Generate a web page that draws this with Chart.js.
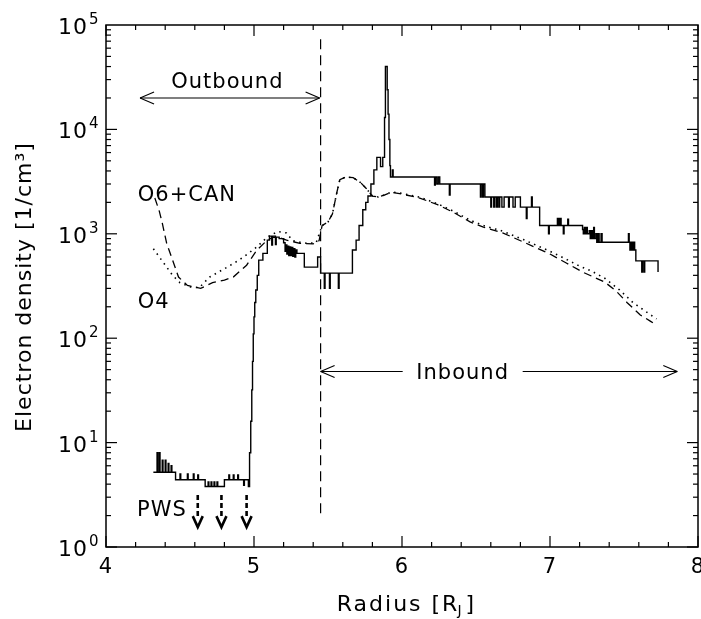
<!DOCTYPE html>
<html>
<head>
<meta charset="utf-8">
<script src="https://cdn.jsdelivr.net/npm/chart.js@4/dist/chart.umd.min.js"></script>
<style>
body { margin: 0; background: #fff; }
canvas { display: block; }
</style>
</head>
<body>
<canvas id="c" width="701" height="619"></canvas>
<script>
// measured density, step trace (value holds from r[i] to r[i+1])
var measR = [4.32, 4.345, 4.35, 4.36, 4.365, 4.38, 4.385, 4.40, 4.405, 4.42, 4.425, 4.44, 4.445,
    4.47, 4.50, 4.505, 4.55, 4.555, 4.59, 4.595, 4.62, 4.625,
    4.67, 4.69, 4.695, 4.71, 4.715, 4.73, 4.735, 4.75, 4.755,
    4.80, 4.83, 4.835, 4.86, 4.865, 4.89, 4.895, 4.93, 4.935, 4.962,
    4.97, 4.978, 4.985, 4.99, 4.995, 5.0, 5.005, 5.012, 5.022, 5.032,
    5.06, 5.09, 5.105, 5.12, 5.125, 5.145, 5.15, 5.17,
    5.20, 5.21, 5.215, 5.222, 5.228, 5.235, 5.24, 5.248, 5.254, 5.262, 5.268, 5.276, 5.282, 5.29,
    5.34, 5.43, 5.45, 5.475, 5.48, 5.51, 5.515, 5.57, 5.575,
    5.665, 5.69, 5.71, 5.735, 5.755, 5.77, 5.79, 5.81, 5.83, 5.855, 5.87,
    5.882, 5.888, 5.9, 5.906, 5.912, 5.918, 5.922, 5.935, 5.94,
    6.22, 6.225, 6.235, 6.245, 6.255, 6.32, 6.325,
    6.53, 6.535, 6.545, 6.55, 6.56,
    6.60, 6.605, 6.62, 6.628, 6.64, 6.645, 6.655, 6.66, 6.675, 6.69, 6.72, 6.725, 6.75, 6.765,
    6.80, 6.84, 6.845, 6.875, 6.88,
    6.93, 6.99, 6.995, 7.05, 7.055, 7.06, 7.065, 7.07, 7.075, 7.09, 7.095, 7.12, 7.125,
    7.22, 7.225, 7.232, 7.238, 7.245, 7.252, 7.265, 7.272, 7.28, 7.288, 7.295, 7.30,
    7.31, 7.316, 7.325, 7.332, 7.345, 7.352,
    7.53, 7.535, 7.54, 7.545, 7.55, 7.555, 7.56, 7.566, 7.572,
    7.58, 7.62, 7.625, 7.635, 7.64, 7.73]
var measN = [5.2, 8.0, 5.2, 8.0, 5.2, 6.8, 5.2, 6.8, 5.2, 6.3, 5.2, 6.0, 5.2,
    4.4, 5.0, 4.4, 5.0, 4.4, 5.0, 4.4, 4.9, 4.4,
    3.8, 4.2, 3.8, 4.2, 3.8, 4.2, 3.8, 4.2, 3.8,
    4.4, 4.9, 4.4, 4.9, 4.4, 4.9, 4.4, 3.9, 4.4, 3.8,
    8, 16, 32, 60, 110, 160, 220, 290, 400, 560,
    650, 870, 950, 780, 950, 790, 930, 900,
    820, 680, 780, 640, 760, 620, 750, 620, 740, 610, 720, 600, 700, 650,
    480, 600, 420, 300, 420, 300, 420, 300, 420,
    700, 870, 1200, 1700, 2000, 2300, 3000, 4100, 5400, 4400, 5400,
    13000, 40000, 24000, 14000, 8000, 4500, 3500, 4100, 3500,
    2930, 3500, 3000, 3500, 3000, 2350, 3000,
    2250, 3000, 2250, 3000, 2250,
    1800, 2250, 1800, 2250, 1800, 2250, 1800, 2250, 1800, 2250, 1800, 2250, 1800, 2250,
    1800, 1400, 1800, 2250, 1800,
    1200, 1000, 1200, 1400, 1200, 1400, 1200, 1400, 1200, 1000, 1200, 1380, 1200,
    1100, 1000, 1150, 1000, 1150, 1000, 1070, 900, 1070, 900, 1150, 900,
    1000, 830, 1000, 830, 1000, 830,
    1000, 830, 700, 830, 700, 830, 700, 830, 700,
    550, 430, 550, 430, 550, 430]

// model O6+CAN (dashed)
var o6R = [4.33, 4.36, 4.38, 4.41, 4.45, 4.49, 4.55, 4.64, 4.72, 4.80, 4.86, 4.95, 5.02, 5.09, 5.13, 5.17,
    5.22, 5.31, 5.40, 5.44, 5.46, 5.50, 5.53, 5.56, 5.58, 5.62, 5.67, 5.72, 5.76, 5.80, 5.84, 5.88,
    5.93, 6.00, 6.12, 6.24, 6.35, 6.46, 6.55, 6.68, 6.82, 7.00, 7.11, 7.22, 7.37, 7.45, 7.52, 7.61, 7.68, 7.72]
var o6N = [2200, 1650, 1270, 810, 560, 385, 320, 300, 340, 360, 385, 500, 700, 870, 930, 920,
    870, 810, 800, 860, 1200, 1300, 1550, 2500, 3300, 3500, 3450, 3100, 2700, 2300, 2250, 2350,
    2500, 2400, 2200, 1900, 1600, 1300, 1160, 1020, 835, 640, 525, 430, 345, 280, 220, 167, 145, 133]

// model O4 (dotted)
var o4R = [4.32, 4.36, 4.41, 4.45, 4.50, 4.57, 4.63, 4.70, 4.76, 4.82, 4.88, 4.93, 5.02, 5.09, 5.16,
    5.22, 5.26, 5.31, 5.36, 5.42, 5.46, 5.50, 5.53, 5.56, 5.58, 5.62, 5.67, 5.72, 5.76, 5.80, 5.84, 5.88,
    5.93, 6.00, 6.12, 6.24, 6.35, 6.46, 6.55, 6.68, 6.82, 7.00, 7.10, 7.20, 7.28, 7.37, 7.47, 7.56, 7.66, 7.72]
var o4N = [720, 600, 480, 400, 340, 310, 305, 385, 430, 480, 540, 600, 750, 930, 1050,
    1020, 860, 830, 810, 820, 1200, 1300, 1550, 2500, 3300, 3500, 3450, 3100, 2700, 2300, 2250, 2350,
    2520, 2440, 2240, 1940, 1640, 1350, 1200, 1060, 880, 680, 580, 490, 440, 375, 290, 220, 175, 153]

var xLabels = [4, 5, 6, 7, 8]
var yExps = [0, 1, 2, 3, 4, 5]
var pwsR = [4.62, 4.78, 4.95]
var boundaryR = 5.45

var FONT = 'DejaVu Sans'

function pts(xs, ys) {
    var out = []
    for (var i = 0; i < xs.length; i++) {
        out.push({ x: xs[i], y: ys[i] })
    }
    return out
}

function seg(ctx, x1, y1, x2, y2) {
    ctx.beginPath()
    ctx.moveTo(x1, y1)
    ctx.lineTo(x2, y2)
    ctx.stroke()
}

function txt(ctx, s, x, y, size, align) {
    ctx.font = size + 'px "' + FONT + '"'
    ctx.textAlign = align || 'left'
    ctx.textBaseline = 'alphabetic'
    ctx.fillText(s, x, y)
}

// open arrow head, dir = +1 pointing right, -1 pointing left
function head(ctx, x, y, dir) {
    seg(ctx, x, y, x - dir * 14, y - 6)
    seg(ctx, x, y, x - dir * 14, y + 6)
}

var decor = {
    id: 'decor',
    afterDatasetsDraw: function (chart) {
        var ctx = chart.ctx
        var a = chart.chartArea
        var sx = chart.scales.x
        var sy = chart.scales.y
        ctx.save()
        ctx.strokeStyle = '#000'
        ctx.fillStyle = '#000'
        ctx.letterSpacing = '1px'

        // frame
        ctx.lineWidth = 1.5
        ctx.strokeRect(a.left, a.top, a.right - a.left, a.bottom - a.top)

        // inward ticks
        ctx.lineWidth = 1.2
        sx.ticks.forEach(function (t) {
            var px = sx.getPixelForValue(t.value)
            var len = Math.abs(t.value - Math.round(t.value)) < 1e-6 ? 11 : 5
            seg(ctx, px, a.bottom, px, a.bottom - len)
            seg(ctx, px, a.top, px, a.top + len)
        })
        for (var e = 0; e < yExps.length - 1; e++) {
            for (var k = 1; k < 10; k++) {
                var py = sy.getPixelForValue(k * Math.pow(10, yExps[e]))
                var len = k == 1 ? 11 : 5
                seg(ctx, a.left, py, a.left + len, py)
                seg(ctx, a.right, py, a.right - len, py)
            }
        }

        // tick labels
        xLabels.forEach(function (v) {
            txt(ctx, String(v), sx.getPixelForValue(v), a.bottom + 26, 21, 'center')
        })
        yExps.forEach(function (e) {
            var py = sy.getPixelForValue(Math.pow(10, e))
            txt(ctx, '10', 88, py + 9, 22, 'right')
            txt(ctx, String(e), 89, py - 1, 15, 'left')
        })

        // axis titles
        ctx.letterSpacing = '2px'
        var tx = sx.getPixelForValue(6.03)
        ctx.font = '22px "' + FONT + '"'
        var w1 = ctx.measureText('Radius [R').width
        ctx.font = '14px "' + FONT + '"'
        var w2 = ctx.measureText('J').width
        ctx.font = '22px "' + FONT + '"'
        var w3 = ctx.measureText(']').width
        var x0 = tx - (w1 + w2 + w3) / 2
        txt(ctx, 'Radius [R', x0, 611, 22, 'left')
        txt(ctx, 'J', x0 + w1 - 2, 615, 14, 'left')
        txt(ctx, ']', x0 + w1 + w2, 611, 22, 'left')
        ctx.letterSpacing = '1px'

        ctx.save()
        ctx.translate(31, 287)
        ctx.rotate(-Math.PI / 2)
        txt(ctx, 'Electron density [1/cm\u00b3]', 0, 0, 22, 'center')
        ctx.restore()

        // outbound / inbound arrows
        ctx.lineWidth = 1.1
        var bx = sx.getPixelForValue(boundaryR)
        var oy = sy.getPixelForValue(20000)
        var ox = sx.getPixelForValue(4.23)
        seg(ctx, ox, oy, bx - 1, oy)
        head(ctx, ox, oy, -1)
        head(ctx, bx - 1, oy, 1)
        txt(ctx, 'Outbound', sx.getPixelForValue(4.82), oy - 10, 21, 'center')

        var iy = sy.getPixelForValue(48)
        var ix = sx.getPixelForValue(7.86)
        var itx = sx.getPixelForValue(6.41)
        seg(ctx, bx, iy, itx - 60, iy)
        seg(ctx, itx + 60, iy, ix, iy)
        head(ctx, bx, iy, -1)
        head(ctx, ix, iy, 1)
        txt(ctx, 'Inbound', itx, iy + 8, 21, 'center')

        // curve labels
        txt(ctx, 'O6+CAN', sx.getPixelForValue(4.215), sy.getPixelForValue(2460) + 8, 21, 'left')
        txt(ctx, 'O4', sx.getPixelForValue(4.215), sy.getPixelForValue(232) + 8, 21, 'left')
        txt(ctx, 'PWS', sx.getPixelForValue(4.21), sy.getPixelForValue(2.36) + 8, 21, 'left')

        // PWS detection-limit arrows
        ctx.lineWidth = 2.6
        pwsR.forEach(function (r) {
            var px = sx.getPixelForValue(r)
            var top = sy.getPixelForValue(3.15)
            var tip = sy.getPixelForValue(1.55)
            ctx.setLineDash([5, 3])
            seg(ctx, px, top, px, tip - 9)
            ctx.setLineDash([])
            ctx.beginPath()
            ctx.moveTo(px - 5, tip - 11)
            ctx.lineTo(px, tip)
            ctx.lineTo(px + 5, tip - 11)
            ctx.stroke()
        })
        ctx.restore()
    }
}

new Chart(document.getElementById('c'), {
    type: 'line',
    data: {
        datasets: [
            {
                label: 'O6+CAN',
                data: pts(o6R, o6N),
                borderColor: '#000',
                borderWidth: 1.3,
                borderDash: [8, 5],
                pointRadius: 0
            },
            {
                label: 'O4',
                data: pts(o4R, o4N),
                borderColor: '#000',
                borderWidth: 1.6,
                borderDash: [1.5, 4.5],
                pointRadius: 0
            },
            {
                label: 'boundary',
                data: pts([boundaryR, boundaryR], [2.1, 80000]),
                borderColor: '#000',
                borderWidth: 1.2,
                borderDash: [10, 6],
                pointRadius: 0
            },
            {
                label: 'measured',
                data: pts(measR, measN),
                borderColor: '#000',
                borderWidth: 1.4,
                stepped: true,
                pointRadius: 0
            }
        ]
    },
    options: {
        responsive: false,
        animation: false,
        devicePixelRatio: 1,
        layout: { padding: { left: 106, right: 3, top: 25, bottom: 72 } },
        plugins: { legend: { display: false }, tooltip: { enabled: false } },
        scales: {
            x: {
                type: 'linear',
                min: 4,
                max: 8,
                display: false,
                ticks: { stepSize: 0.1 }
            },
            y: {
                type: 'logarithmic',
                min: 1,
                max: 100000,
                display: false
            }
        }
    },
    plugins: [decor]
})
</script>
</body>
</html>
